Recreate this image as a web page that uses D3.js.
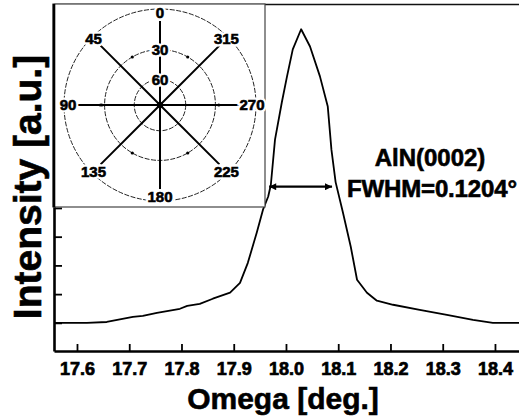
<!DOCTYPE html>
<html>
<head>
<meta charset="utf-8">
<script src="https://cdn.jsdelivr.net/npm/d3@7"></script>
<style>
  body { margin: 0; background: #fff; }
  text { font-family: "Liberation Sans", Arial, sans-serif; font-weight: bold; }
</style>
</head>
<body>
<div id="root"></div>
<script>
// omega scan of AlN(0002)
const omega = [17.556, 17.619, 17.657, 17.677, 17.707, 17.726, 17.753, 17.797, 17.811, 17.835,
  17.860, 17.893, 17.912, 17.927, 17.944, 17.956, 17.966, 17.971, 17.979, 17.992, 18.002,
  18.013, 18.029, 18.046, 18.065, 18.080, 18.087, 18.095, 18.109, 18.124, 18.136, 18.155,
  18.174, 18.205, 18.256, 18.308, 18.358, 18.396, 18.446];
const intensity = [0, 0, 0.03, 0.10, 0.21, 0.24, 0.35, 0.49, 0.59, 0.66,
  0.84, 1.05, 1.39, 2.09, 3.14, 3.94, 4.40, 4.80, 6.38, 7.67, 8.58,
  9.52, 10.22, 9.62, 8.58, 7.53, 6.03, 4.90, 3.84, 2.65, 1.50, 1.05,
  0.77, 0.63, 0.45, 0.28, 0.10, 0, 0];
const xTicks = [17.6, 17.7, 17.8, 17.9, 18.0, 18.1, 18.2, 18.3, 18.4];
const yTicks = [0, 1, 2, 3, 4, 5, 6, 7, 8, 9, 10, 11];
const peakCenter = 18.028;
const fwhm = 0.1204;
const fwhmLevel = 4.74;

// inset pole figure
const azimuthLabels = [0, 45, 90, 135, 180, 225, 270, 315];
const tiltCircles = [0, 30, 60];
const tiltLabels = [30, 60];
const poleAzimuth = [30, 90, 150, 210, 270, 330];
const poleTilt = [30, 27, 30, 30, 27, 30];

const W = 519, H = 417;
const margin = { top: 4, right: 0, bottom: 66, left: 54 };

const svg = d3.select("#root").append("svg")
  .attr("width", W).attr("height", H);

const x = d3.scaleLinear().domain([17.556, 18.446]).range([margin.left, W - margin.right]);
const y = d3.scaleLinear().domain([-0.98, 11.1]).range([H - margin.bottom, margin.top]);

// heavy text: a thin black outline makes the bold face look like the scan
const heavy = (sel, w) => sel.attr("fill", "#000").attr("stroke", "#000").attr("stroke-width", w);

// top border
svg.append("line")
  .attr("x1", margin.left).attr("x2", W)
  .attr("y1", margin.top + 0.5).attr("y2", margin.top + 0.5)
  .attr("stroke", "#111").attr("stroke-width", 1.6);

// curve
svg.append("path")
  .datum(omega.map((d, i) => [d, intensity[i]]))
  .attr("fill", "none")
  .attr("stroke", "#000")
  .attr("stroke-width", 1.8)
  .attr("stroke-linejoin", "round")
  .attr("d", d3.line().x(d => x(d[0])).y(d => y(d[1])));

// y axis, ticks only
const yAxis = svg.append("g")
  .attr("transform", `translate(${margin.left},0)`)
  .call(d3.axisLeft(y).tickValues(yTicks).tickSizeInner(-8).tickSizeOuter(0).tickFormat(""));
yAxis.select(".domain").attr("stroke-width", 2.6);
yAxis.selectAll(".tick line").attr("stroke-width", 1.8);

// x axis
const xAxis = svg.append("g")
  .attr("transform", `translate(0,${H - margin.bottom})`)
  .call(d3.axisBottom(x).tickValues(xTicks).tickSizeInner(-7).tickSizeOuter(0)
    .tickPadding(11).tickFormat(d3.format(".1f")));
xAxis.select(".domain").attr("stroke-width", 2.6);
xAxis.selectAll(".tick line").attr("stroke-width", 1.8);
xAxis.selectAll("text")
  .attr("font-size", 18)
  .call(heavy, 0.7);

// FWHM arrow
const defs = svg.append("defs");
["start", "end"].forEach(k => {
  defs.append("marker")
    .attr("id", "arr-" + k)
    .attr("viewBox", "0 0 10 10")
    .attr("refX", k === "end" ? 10 : 0).attr("refY", 5)
    .attr("markerWidth", 5).attr("markerHeight", 3.2)
    .attr("orient", "auto")
    .append("path")
    .attr("d", k === "end" ? "M0,0L10,5L0,10z" : "M10,0L0,5L10,10z")
    .attr("fill", "#000");
});
svg.append("line")
  .attr("x1", x(peakCenter - fwhm / 2)).attr("x2", x(peakCenter + fwhm / 2))
  .attr("y1", y(fwhmLevel)).attr("y2", y(fwhmLevel))
  .attr("stroke", "#000").attr("stroke-width", 2.2)
  .attr("marker-start", "url(#arr-start)")
  .attr("marker-end", "url(#arr-end)");

// annotation
svg.append("text")
  .attr("x", 430).attr("y", 166)
  .attr("text-anchor", "middle")
  .attr("font-size", 24)
  .call(heavy, 0.6)
  .text("AlN(0002)");
svg.append("text")
  .attr("x", 347).attr("y", 197)
  .attr("font-size", 24)
  .attr("textLength", 170)
  .call(heavy, 0.6)
  .text("FWHM=0.1204°");

// axis titles
svg.append("text")
  .attr("x", 283).attr("y", 409)
  .attr("text-anchor", "middle")
  .attr("font-size", 30)
  .call(heavy, 0.6)
  .text("Omega [deg.]");
svg.append("text")
  .attr("transform", "translate(41,187) rotate(-90)")
  .attr("text-anchor", "middle")
  .attr("font-size", 39)
  .call(heavy, 0.6)
  .text("Intensity [a.u.]");

// ---- inset pole figure ----
const inset = { x0: 53, y0: 4, x1: 265, y1: 207 };
svg.append("rect")
  .attr("x", inset.x0).attr("y", inset.y0)
  .attr("width", inset.x1 - inset.x0).attr("height", inset.y1 - inset.y0)
  .attr("fill", "#fff").attr("stroke", "#444").attr("stroke-width", 1.2);
// redraw left axis over the inset edge
svg.append("line")
  .attr("x1", margin.left).attr("x2", margin.left)
  .attr("y1", margin.top).attr("y2", inset.y1)
  .attr("stroke", "#000").attr("stroke-width", 2.6);

const cx = 160, cy = 105, R = 96;
// stereographic: radius grows with tan of half the complement of tilt
const rad = d3.scaleLinear().domain([0, 1]).range([0, R]);
const rOf = psi => rad(Math.tan((90 - psi) / 2 * Math.PI / 180));
const px = (phi, r) => cx - r * Math.sin(phi * Math.PI / 180);
const py = (phi, r) => cy - r * Math.cos(phi * Math.PI / 180);

const pole = svg.append("g");
pole.selectAll("circle.grid")
  .data(tiltCircles)
  .enter().append("circle")
  .attr("class", "grid")
  .attr("cx", cx).attr("cy", cy)
  .attr("r", d => rOf(d))
  .attr("fill", "none")
  .attr("stroke", "#222")
  .attr("stroke-width", 1)
  .attr("stroke-dasharray", "5,1.5");

pole.selectAll("line.spoke")
  .data(azimuthLabels)
  .enter().append("line")
  .attr("class", "spoke")
  .attr("x1", cx).attr("y1", cy)
  .attr("x2", d => px(d, R - 12)).attr("y2", d => py(d, R - 12))
  .attr("stroke", "#000").attr("stroke-width", 2);

pole.append("circle")
  .attr("cx", cx).attr("cy", cy).attr("r", 3.2).attr("fill", "#000");

pole.selectAll("ellipse.peak")
  .data(poleAzimuth)
  .enter().append("ellipse")
  .attr("class", "peak")
  .attr("cx", (d, i) => px(d, rOf(poleTilt[i])))
  .attr("cy", (d, i) => py(d, rOf(poleTilt[i])))
  .attr("rx", d => d === 90 ? 2.8 : 1.6)
  .attr("ry", 1.6)
  .attr("fill", "#000");

// labels: white knock-out behind, heavy black on top
const azX = d => px(d, d % 90 === 0 ? R - 4 : R - 2);
const azY = d => py(d, d % 90 === 0 ? R - 4 : R - 2);
const tiltY = d => cy - rOf(d);
[["#fff", 5], ["#000", 0.6]].forEach(([c, w]) => {
  pole.selectAll(null)
    .data(azimuthLabels)
    .enter().append("text")
    .attr("x", azX).attr("y", azY)
    .attr("text-anchor", "middle").attr("dy", "0.36em")
    .attr("font-size", 15)
    .attr("fill", c).attr("stroke", c).attr("stroke-width", w)
    .text(d => d);
  pole.selectAll(null)
    .data(tiltLabels)
    .enter().append("text")
    .attr("x", cx).attr("y", tiltY)
    .attr("text-anchor", "middle").attr("dy", "0.36em")
    .attr("font-size", 15)
    .attr("fill", c).attr("stroke", c).attr("stroke-width", w)
    .text(d => d);
});
</script>
</body>
</html>
